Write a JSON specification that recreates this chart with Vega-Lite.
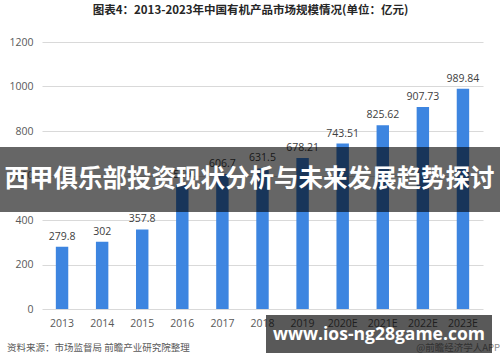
{
  "$schema": "https://vega.github.io/schema/vega-lite/v6.json",
  "width": 441,
  "height": 267,
  "autosize": {"type": "none"},
  "padding": {"left": 42, "top": 42, "right": 17, "bottom": 53},
  "background": "white",
  "config": {
    "view": {"stroke": null},
    "font": "Noto Sans CJK SC"
  },
  "title": {
    "text": "图表4：2013-2023年中国有机产品市场规模情况(单位：亿元)",
    "fontSize": 11.5,
    "fontWeight": "bold",
    "color": "#262626",
    "anchor": "middle",
    "dx": -12,
    "offset": 21,
    "font": "Noto Sans CJK SC"
  },
  "layer": [
    {
      "data": {
        "values": [
          {"year": "2013", "value": 279.8, "label": "279.8"},
          {"year": "2014", "value": 302, "label": "302"},
          {"year": "2015", "value": 357.8, "label": "357.8"},
          {"year": "2016", "value": 559, "label": "559"},
          {"year": "2017", "value": 606.7, "label": "606.7"},
          {"year": "2018", "value": 631.5, "label": "631.5"},
          {"year": "2019", "value": 678.21, "label": "678.21"},
          {"year": "2020E", "value": 743.51, "label": "743.51"},
          {"year": "2021E", "value": 825.62, "label": "825.62"},
          {"year": "2022E", "value": 907.73, "label": "907.73"},
          {"year": "2023E", "value": 989.84, "label": "989.84"}
        ]
      },
      "encoding": {
        "x": {
          "field": "year",
          "type": "ordinal",
          "sort": null,
          "scale": {"paddingInner": 0.69, "paddingOuter": 0.345},
          "axis": {
            "title": null,
            "labelAngle": 0,
            "labelFontSize": 10.5,
            "labelColor": "#595959",
            "labelFont": "Open Sans",
            "labelPadding": 9,
            "ticks": false,
            "domain": false
          }
        },
        "y": {
          "field": "value",
          "type": "quantitative",
          "scale": {"domain": [0, 1200]},
          "axis": {
            "title": null,
            "values": [0, 200, 400, 600, 800, 1000, 1200],
            "format": "d",
            "labelFontSize": 10.5,
            "labelColor": "#595959",
            "labelFont": "Open Sans",
            "labelPadding": 9,
            "ticks": false,
            "domain": false,
            "gridColor": "#d9d9d9",
            "gridWidth": 1
          }
        }
      },
      "layer": [
        {"mark": {"type": "bar", "color": "#3d85e0"}},
        {
          "mark": {"type": "text", "dy": -10, "fontSize": 10.5, "color": "#404040", "font": "Open Sans"},
          "encoding": {"text": {"field": "label"}}
        }
      ]
    },
    {
      "data": {"values": [{"t": "西甲俱乐部投资现状分析与未来发展趋势探讨"}]},
      "layer": [
        {
          "mark": {"type": "rect", "color": "black", "opacity": 0.6},
          "encoding": {
            "x": {"value": -43},
            "x2": {"value": 458},
            "y": {"value": 105},
            "y2": {"value": 170}
          }
        },
        {
          "mark": {"type": "text", "color": "white", "fontSize": 24.5, "fontWeight": "bold", "align": "center", "baseline": "middle", "font": "Noto Sans CJK SC"},
          "encoding": {
            "x": {"value": 207.5},
            "y": {"value": 138},
            "text": {"field": "t"}
          }
        }
      ]
    },
    {
      "data": {"values": [{"src": "资料来源：市场监督局 前瞻产业研究院整理", "app": "@前瞻经济学人APP", "url": "www.ios-ng28game.com"}]},
      "layer": [
        {
          "mark": {"type": "text", "color": "#595959", "fontSize": 9.5, "align": "left", "baseline": "middle", "font": "Noto Sans CJK SC"},
          "encoding": {
            "x": {"value": -35},
            "y": {"value": 306},
            "text": {"field": "src"}
          }
        },
        {
          "mark": {"type": "text", "color": "#8c8c8c", "fontSize": 9.5, "align": "right", "baseline": "middle", "font": "Noto Sans CJK SC"},
          "encoding": {
            "x": {"value": 458},
            "y": {"value": 306},
            "text": {"field": "app"}
          }
        },
        {
          "mark": {"type": "rect", "color": "black", "opacity": 0.65},
          "encoding": {
            "x": {"value": 224},
            "x2": {"value": 450},
            "y": {"value": 273},
            "y2": {"value": 311}
          }
        },
        {
          "mark": {"type": "text", "color": "white", "fontSize": 17.5, "fontWeight": "bold", "align": "center", "baseline": "middle", "font": "Open Sans"},
          "encoding": {
            "x": {"value": 337},
            "y": {"value": 293},
            "text": {"field": "url"}
          }
        }
      ]
    }
  ]
}
